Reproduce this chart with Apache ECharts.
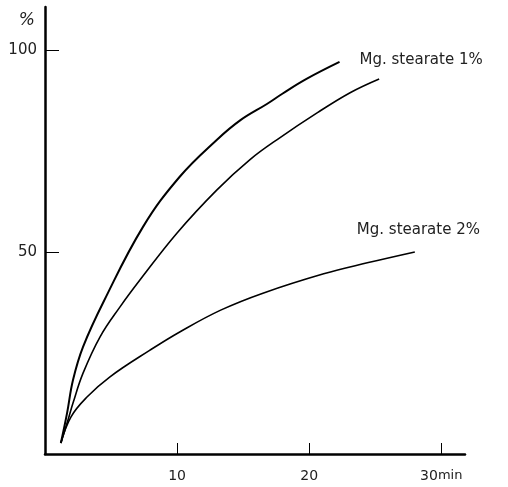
<!DOCTYPE html>
<html>
<head>
<meta charset="utf-8">
<script src="https://cdn.jsdelivr.net/npm/echarts@6/dist/echarts.min.js"></script>
<style>
html,body{margin:0;padding:0;background:#fff;}
#chart{width:508px;height:487px;}
</style>
</head>
<body>
<div id="chart"></div>
<script>
// Time (min) vs % — three curves
const seriesNames = ['Mg. stearate 1%', 'Mg. stearate 1% (b)', 'Mg. stearate 2%'];
const curveA = [[1.2,2.7],[1.67,10.1],[2.12,18.3],[2.88,26.5],[4.5,38.1],[7.42,56.2],[10.2,68.6],[13.0,77.7],[14.8,82.6],[16.8,86.6],[18.0,89.2],[19.8,92.8],[22.3,97.0]];
const curveB = [[1.2,2.7],[1.74,8.4],[2.12,12.6],[2.88,20.0],[4.17,29.0],[5.68,36.4],[7.2,43.1],[10.0,54.7],[13.0,65.3],[15.5,72.8],[17.8,78.3],[20.6,84.4],[23.1,89.4],[25.3,92.8]];
const curveC = [[1.2,2.7],[1.97,9.2],[3.18,14.1],[4.92,19.1],[7.95,25.7],[10.2,30.2],[13.3,35.6],[16.5,39.8],[21.1,44.6],[24.4,47.3],[28.0,50.0]];
const xTicks = [10, 20, 30];
const yTicks = [50, 100];
const xUnit = 'min';
const yUnit = '%';

const font = 'DejaVu Sans';
const chart = echarts.init(document.getElementById('chart'));
const lineCommon = {type: 'line', smooth: 0.4, showSymbol: false};
chart.setOption({
  animation: false,
  backgroundColor: '#fff',
  grid: {left: 45, right: 43, top: 7, bottom: 33},
  xAxis: {
    type: 'value', min: 0, max: 31.8,
    splitLine: {show: false},
    axisLine: {lineStyle: {color: '#000', width: 2.5}},
    axisTick: {inside: true, length: 11, lineStyle: {color: '#000', width: 1}, customValues: xTicks},
    axisLabel: {
      customValues: xTicks, margin: 15, color: '#222', fontFamily: font, fontSize: 14,
      formatter: v => v === 30 ? v + '{m|' + xUnit + '}' : String(v),
      rich: {m: {fontFamily: font, fontSize: 13, color: '#222'}}
    }
  },
  yAxis: {
    type: 'value', min: 0, max: 110.6,
    name: yUnit, nameLocation: 'end', nameGap: -14,
    nameTextStyle: {color: '#222', fontFamily: font, fontSize: 17, fontStyle: 'italic', align: 'right', verticalAlign: 'middle', padding: [0, 10, 0, 0]},
    splitLine: {show: false},
    axisLine: {lineStyle: {color: '#000', width: 2.5}},
    axisTick: {inside: true, length: 14, lineStyle: {color: '#000', width: 1}, customValues: yTicks},
    axisLabel: {customValues: yTicks, margin: 8, color: '#222', fontFamily: font, fontSize: 15}
  },
  series: [
    Object.assign({name: seriesNames[0], data: curveA,
     lineStyle: {color: '#000', width: 2},
     endLabel: {show: true, formatter: 'Mg. stearate 1%', distance: 20, offset: [0, -2], color: '#222', fontFamily: font, fontSize: 15}}, lineCommon),
    Object.assign({name: seriesNames[1], data: curveB,
     lineStyle: {color: '#000', width: 1.6}}, lineCommon),
    Object.assign({name: seriesNames[2], data: curveC,
     lineStyle: {color: '#000', width: 1.6},
     endLabel: {show: true, formatter: 'Mg. stearate 2%', distance: 0, offset: [-58, -22], color: '#222', fontFamily: font, fontSize: 15}}, lineCommon)
  ]
});
</script>
</body>
</html>
